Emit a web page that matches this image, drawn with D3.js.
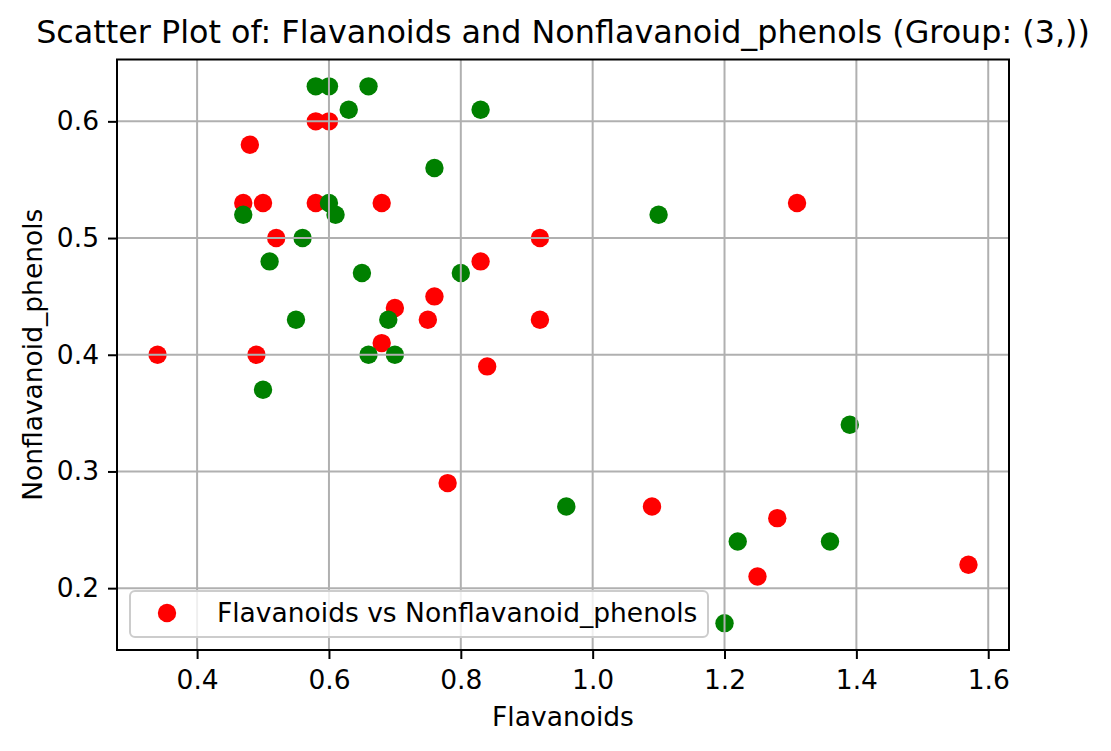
<!DOCTYPE html>
<html>
<head>
<meta charset="utf-8">
<script src="https://cdn.jsdelivr.net/npm/d3@7"></script>
<style>
  html, body { margin: 0; padding: 0; background: #ffffff; }
  svg { display: block; font-family: "DejaVu Sans", sans-serif; }
</style>
</head>
<body>
<div id="chart"></div>
<script>
// Values
const redX = [0.58, 0.60, 0.48, 0.47, 0.50, 0.58, 0.68, 0.52, 0.83, 0.76, 0.70, 0.75, 0.68, 0.34, 0.49, 0.84, 0.92, 0.92, 1.31, 0.78, 1.09, 1.28, 1.25, 1.57];
const redY = [0.60, 0.60, 0.58, 0.53, 0.53, 0.53, 0.53, 0.50, 0.48, 0.45, 0.44, 0.43, 0.41, 0.40, 0.40, 0.39, 0.50, 0.43, 0.53, 0.29, 0.27, 0.26, 0.21, 0.22];
const greenX = [0.58, 0.60, 0.66, 0.63, 0.83, 0.76, 0.60, 0.61, 0.47, 0.56, 0.51, 0.65, 0.80, 0.55, 0.69, 0.66, 0.70, 0.50, 1.10, 0.96, 1.22, 1.36, 1.39, 1.20];
const greenY = [0.63, 0.63, 0.63, 0.61, 0.61, 0.56, 0.53, 0.52, 0.52, 0.50, 0.48, 0.47, 0.47, 0.43, 0.43, 0.40, 0.40, 0.37, 0.52, 0.27, 0.24, 0.24, 0.34, 0.17];

const xTicks = [0.4, 0.6, 0.8, 1.0, 1.2, 1.4, 1.6];
const yTicks = [0.2, 0.3, 0.4, 0.5, 0.6];

const titleText = 'Scatter Plot of: Flavanoids and Nonflavanoid_phenols (Group: (3,))';
const xLabel = 'Flavanoids';
const yLabel = 'Nonflavanoid_phenols';
const legendLabel = 'Flavanoids vs Nonflavanoid_phenols';

const width = 1111;
const height = 751;
const plot = { left: 117, right: 1009, top: 59.5, bottom: 650 };
const fontSize = 26.5;

// matplotlib style 5% padding around the data
function padded(values) {
  const [lo, hi] = d3.extent(values);
  const m = (hi - lo) * 0.05;
  return [lo - m, hi + m];
}

function draw() {
  const svg = d3.select('#chart').append('svg').attr('width', width).attr('height', height);

  const x = d3.scaleLinear().domain(padded(redX.concat(greenX))).range([plot.left, plot.right]);
  const y = d3.scaleLinear().domain(padded(redY.concat(greenY))).range([plot.bottom, plot.top]);

  const red = redX.map((v, i) => ({ x: v, y: redY[i] }));
  const green = greenX.map((v, i) => ({ x: v, y: greenY[i] }));

  // points
  svg.append('g').selectAll('circle').data(red).enter().append('circle')
    .attr('cx', (d) => x(d.x)).attr('cy', (d) => y(d.y)).attr('r', 9.2).attr('fill', '#ff0000');
  svg.append('g').selectAll('circle').data(green).enter().append('circle')
    .attr('cx', (d) => x(d.x)).attr('cy', (d) => y(d.y)).attr('r', 9.2).attr('fill', '#008000');

  // grid (drawn above the markers, like matplotlib)
  const grid = svg.append('g').attr('stroke', '#b0b0b0').attr('stroke-width', 2);
  grid.selectAll('.gx').data(xTicks).enter().append('line')
    .attr('x1', (d) => x(d)).attr('x2', (d) => x(d)).attr('y1', plot.top).attr('y2', plot.bottom);
  grid.selectAll('.gy').data(yTicks).enter().append('line')
    .attr('y1', (d) => y(d)).attr('y2', (d) => y(d)).attr('x1', plot.left).attr('x2', plot.right);

  // axes
  const xAxis = d3.axisBottom(x).tickValues(xTicks).tickFormat(d3.format('.1f')).tickSize(9).tickPadding(11);
  const yAxis = d3.axisLeft(y).tickValues(yTicks).tickFormat(d3.format('.1f')).tickSize(9).tickPadding(9);

  const gx = svg.append('g').attr('transform', `translate(0,${plot.bottom})`).call(xAxis);
  const gy = svg.append('g').attr('transform', `translate(${plot.left},0)`).call(yAxis);
  [gx, gy].forEach((g) => {
    g.select('.domain').remove();
    g.selectAll('.tick line').attr('stroke', '#000').attr('stroke-width', 2);
    g.selectAll('.tick text').attr('fill', '#000').style('font-size', fontSize + 'px').style('font-family', '"DejaVu Sans", sans-serif');
  });

  // frame
  svg.append('rect')
    .attr('x', plot.left).attr('y', plot.top)
    .attr('width', plot.right - plot.left).attr('height', plot.bottom - plot.top)
    .attr('fill', 'none').attr('stroke', '#000').attr('stroke-width', 2);

  // legend
  const legend = svg.append('g').attr('transform', 'translate(130,591)');
  legend.append('rect')
    .attr('width', 578).attr('height', 46).attr('rx', 5)
    .attr('fill', '#ffffff').attr('fill-opacity', 0.8)
    .attr('stroke', '#cccccc').attr('stroke-width', 2);
  legend.append('circle').attr('cx', 37).attr('cy', 22).attr('r', 9.2).attr('fill', '#ff0000');
  legend.append('text').attr('x', 87).attr('y', 31)
    .style('font-size', fontSize + 'px').attr('fill', '#000').text(legendLabel);

  // titles
  svg.append('text').attr('x', (plot.left + plot.right) / 2).attr('y', 43)
    .attr('text-anchor', 'middle').style('font-size', '31.8px').attr('fill', '#000').text(titleText);
  svg.append('text').attr('x', (plot.left + plot.right) / 2).attr('y', 726)
    .attr('text-anchor', 'middle').style('font-size', fontSize + 'px').attr('fill', '#000').text(xLabel);
  svg.append('text')
    .attr('transform', `translate(42,${(plot.top + plot.bottom) / 2}) rotate(-90)`)
    .attr('text-anchor', 'middle').style('font-size', fontSize + 'px').attr('fill', '#000').text(yLabel);
}

document.addEventListener('DOMContentLoaded', draw);
</script>
</body>
</html>
